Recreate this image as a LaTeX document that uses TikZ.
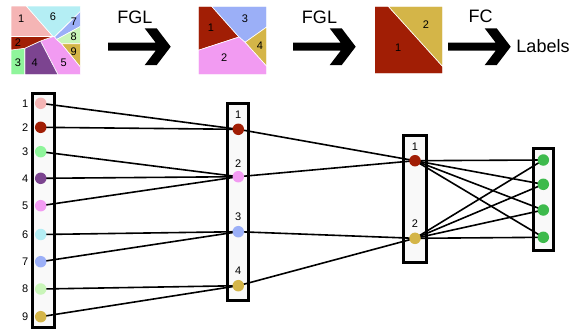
\documentclass[tikz,border=0pt]{standalone}
\usepackage{fontspec}
\setmainfont{Liberation Sans}
\pgfdeclarelayer{back}
\pgfdeclarelayer{mid}
\pgfsetlayers{back,mid,main}

\definecolor{cPink}{HTML}{F5B5B5}
\definecolor{cRed}{HTML}{A11E05}
\definecolor{cGreen}{HTML}{8FF59B}
\definecolor{cPurple}{HTML}{7C4490}
\definecolor{cMagenta}{HTML}{F29BF2}
\definecolor{cCyan}{HTML}{B4EEF4}
\definecolor{cBlue}{HTML}{9BAFF7}
\definecolor{cLime}{HTML}{C9F5B9}
\definecolor{cGold}{HTML}{D4B548}
\definecolor{cOut}{HTML}{3DBA4C}

\tikzset{
  dot/.style={circle, inner sep=0pt, minimum size=11.5pt},
  colbox/.style={draw, line width=3pt, fill=gray!5, inner sep=0pt},
  link/.style={line width=1.6pt},
  num/.style={font=\fontsize{11}{12}\selectfont, inner sep=0pt},
  big/.style={font=\fontsize{18}{20}\selectfont, inner sep=0pt},
  region/.style={draw=white, line width=0.6pt},
  fatarrow/.pic={
    \fill[black] (-62.5,-4) -- (-15,-4) -- (-26,-18.4) -- (-14,-18.4) -- (0,0)
      -- (-14,18.4) -- (-26,18.4) -- (-15,4) -- (-62.5,4) -- cycle;
  }
}

\begin{document}
\begin{tikzpicture}[x=1pt,y=-1pt]
\useasboundingbox (0,0) rectangle (573,333);

% ---- first segmentation (9 regions)
\filldraw[region, fill=cPink]    (11,6) -- (26.3,6) -- (53,36.5) -- (11,36.5) -- cycle;
\filldraw[region, fill=cCyan]    (26.3,6) -- (80.3,6) -- (80.3,11.5) -- (54.5,36.5) -- (53,36.5) -- cycle;
\filldraw[region, fill=cBlue]    (80.3,11.5) -- (80.3,26.5) -- (56.5,39.5) -- (54.5,37) -- cycle;
\filldraw[region, fill=cLime]    (56.5,39.5) -- (80.3,26.5) -- (80.3,43.7) -- (61.3,43.7) -- cycle;
\filldraw[region, fill=cGold]    (61.3,43.7) -- (80.3,43.7) -- (80.3,67) -- cycle;
\filldraw[region, fill=cMagenta] (40.5,41) -- (53,36.5) -- (54.5,37) -- (56.5,39.5) -- (61.3,43.7) -- (80.3,67) -- (80.3,74.7) -- (58,74.7) -- cycle;
\filldraw[region, fill=cPurple]  (24.7,48.3) -- (40.5,41) -- (58,74.7) -- (24.7,74.7) -- cycle;
\filldraw[region, fill=cGreen]   (11,50) -- (24.7,48.3) -- (24.7,74.7) -- (11,74.7) -- cycle;
\filldraw[region, fill=cRed]     (11,36.5) -- (53,36.5) -- (40.5,41) -- (24.7,48.3) -- (11,50) -- cycle;
\node[num] (s1) at (21.3,19) {1};
\node[num] (s6) at (53,17) {6};
\node[num] (s7) at (74,22) {7};
\node[num] (s8) at (73.7,36.3) {8};
\node[num] (s2) at (18,42.3) {2};
\node[num] (s9) at (73.7,51.3) {9};
\node[num] (s3) at (18,62.3) {3};
\node[num] (s4) at (34.7,62.3) {4};
\node[num] (s5) at (63.7,62.3) {5};

% ---- second segmentation (4 regions)
\filldraw[region, fill=cRed]     (198.3,6.3) -- (211.7,6.3) -- (239,37) -- (198.3,50.3) -- cycle;
\filldraw[region, fill=cBlue]    (211.7,6.3) -- (266.7,6.3) -- (266.7,27) -- (245,42.3) -- (239,37) -- cycle;
\filldraw[region, fill=cGold]    (245,42.3) -- (266.7,27) -- (266.7,66.3) -- cycle;
\filldraw[region, fill=cMagenta] (198.3,50.3) -- (239,37) -- (245,42.3) -- (266.7,66.3) -- (266.7,74.7) -- (198.3,74.7) -- cycle;
\node[num] (t1) at (211,28) {1};
\node[num] (t3) at (245,19) {3};
\node[num] (t4) at (260,45.7) {4};
\node[num] (t2) at (224.3,58) {2};

% ---- third segmentation (2 regions)
\filldraw[region, fill=cRed]  (374.5,6.3) -- (388.3,6.3) -- (442.7,66.5) -- (442.7,73.7) -- (374.5,73.7) -- cycle;
\filldraw[region, fill=cGold] (388.3,6.3) -- (442.7,6.3) -- (442.7,66.5) -- cycle;
\node[num] (u1) at (398.3,47.3) {1};
\node[num] (u2) at (426,24.7) {2};

% ---- arrows between stages
\pic at (170.7,46.7) {fatarrow};
\pic at (355.7,46.7) {fatarrow};
\pic at (510.7,46.7) {fatarrow};
\node[big] (fgl1) at (135,17.5) {FGL};
\node[big] (fgl2) at (319.5,17.5) {FGL};
\node[big] (fc) at (480.5,16) {FC};
\node[big] (lab) at (543,46) {Labels};

% ---- column boxes
\begin{pgfonlayer}{back}
\node[colbox, minimum width=22.2pt, minimum height=233.3pt] (box1) at (43.4,210.35) {};
\node[colbox, minimum width=21pt, minimum height=197.3pt] (box2) at (238,201.65) {};
\node[colbox, minimum width=23.3pt, minimum height=126.3pt] (box3) at (414.65,198.85) {};
\node[colbox, minimum width=20.7pt, minimum height=102.5pt] (box4) at (543.35,199.25) {};
\end{pgfonlayer}

% ---- first layer: nine regions
\node[dot, fill=cPink]    (a1) at (40.7,103.3) {};
\node[dot, fill=cRed]     (a2) at (40.7,127.3) {};
\node[dot, fill=cGreen]   (a3) at (40.7,151.7) {};
\node[dot, fill=cPurple]  (a4) at (40.7,178.3) {};
\node[dot, fill=cMagenta] (a5) at (40.7,205.7) {};
\node[dot, fill=cCyan]    (a6) at (40.7,234.5) {};
\node[dot, fill=cBlue]    (a7) at (40.7,261.7) {};
\node[dot, fill=cLime]    (a8) at (40.7,289) {};
\node[dot, fill=cGold]    (a9) at (40.7,316.7) {};
\foreach \i/\y in {1/103.3,2/127.3,3/151.7,4/178.3,5/205.7,6/234.5,7/261.7,8/289,9/316.7}
  \node[num, anchor=east] (la\i) at (28.5,\y) {\i};

% ---- second layer: four regions
\node[dot, fill=cRed]     (b1) at (238.3,129.3) {};
\node[dot, fill=cMagenta] (b2) at (238.3,176.7) {};
\node[dot, fill=cBlue]    (b3) at (238.3,231.7) {};
\node[dot, fill=cGold]    (b4) at (238.3,285.7) {};
\foreach \i/\y in {1/115,2/163.3,3/216.7,4/270.7}
  \node[num] (lb\i) at (238.3,\y) {\i};

% ---- third layer: two regions
\node[dot, fill=cRed]  (c1) at (415,160.7) {};
\node[dot, fill=cGold] (c2) at (415,238.3) {};
\node[num] (lc1) at (415,146.7) {1};
\node[num] (lc2) at (415,223.3) {2};

% ---- output layer
\node[dot, fill=cOut] (d1) at (543.3,160) {};
\node[dot, fill=cOut] (d2) at (543.3,184.3) {};
\node[dot, fill=cOut] (d3) at (543.3,210) {};
\node[dot, fill=cOut] (d4) at (543.3,237.3) {};

% ---- connections
\begin{pgfonlayer}{mid}
\foreach \s/\t in {a1/b1,a2/b1,a3/b2,a4/b2,a5/b2,a6/b3,a7/b3,a8/b4,a9/b4,
                   b1/c1,b2/c1,b3/c2,b4/c2}
  \draw[link] (\s.center) -- (\t.center);
\foreach \s in {c1,c2}
  \foreach \t in {d1,d2,d3,d4}
    \draw[link] (\s.center) -- (\t.center);
\end{pgfonlayer}
\end{tikzpicture}
\end{document}
